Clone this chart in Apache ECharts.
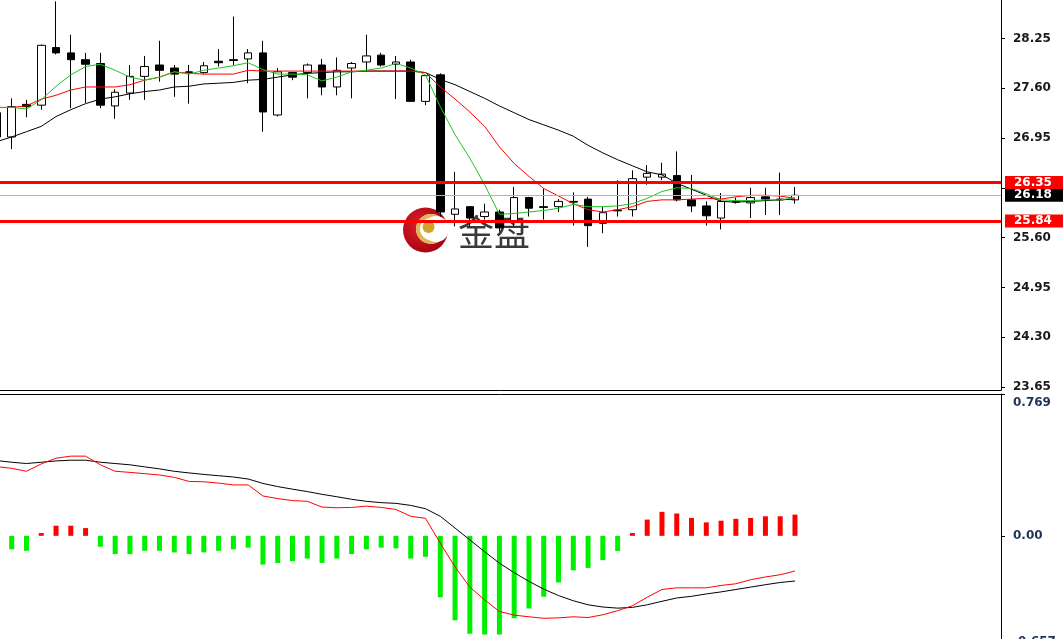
<!DOCTYPE html>
<html><head><meta charset="utf-8">
<script src="https://cdn.jsdelivr.net/npm/echarts@6/dist/echarts.min.js"></script>
<style>html,body{margin:0;padding:0;background:#fff}#c{width:1063px;height:639px}</style>
</head><body><div id="c"></div>
<script>
// ---- price candles (bar index = position in arrays) ----
const opens  = [27.27,26.95,27.38,27.37,28.13,28.06,27.97,27.92,27.36,27.53,27.75,27.90,27.86,27.81,27.80,27.95,27.97,27.98,28.06,27.24,27.80,27.80,27.90,27.61,27.86,27.94,28.03,27.91,27.94,27.42,27.77,25.93,26.03,25.90,25.96,25.82,26.15,26.03,26.03,26.10,26.13,25.81,25.985,25.99,26.42,26.42,26.44,26.12,26.04,25.88,26.095,26.08,26.16,26.13,26.12];
const closes = [26.95,27.35,27.35,28.16,28.06,27.97,27.91,27.37,27.54,27.75,27.88,27.83,27.78,27.80,27.89,27.93,27.96,28.06,27.28,27.81,27.74,27.90,27.61,27.83,27.92,28.02,27.90,27.94,27.42,27.76,25.96,26.00,25.88,25.96,25.75,26.15,26.01,26.02,26.10,26.09,25.78,25.95,25.975,26.40,26.47,26.46,26.12,26.04,25.91,26.10,26.09,26.15,26.13,26.12,26.18];
const lows   = [26.90,26.79,27.21,27.31,28.04,27.33,27.40,27.33,27.19,27.44,27.44,27.68,27.48,27.39,27.78,27.88,27.90,27.66,27.02,27.22,27.70,27.46,27.50,27.50,27.46,27.81,27.88,27.45,27.42,27.37,25.90,25.77,25.77,25.86,25.70,25.77,25.90,25.86,25.96,25.78,25.50,25.68,25.90,25.90,26.32,26.38,26.10,25.96,25.78,25.73,26.07,25.88,25.92,25.92,26.07];
const highs  = [27.30,27.46,27.44,28.17,28.74,28.30,28.06,28.06,27.58,27.90,28.02,28.22,27.90,27.90,27.94,28.11,28.54,28.11,28.22,27.86,27.81,27.92,27.98,28.00,27.94,28.30,28.06,28.02,27.97,27.76,27.79,26.49,26.03,26.07,25.99,26.29,26.16,26.27,26.13,26.22,26.16,26.03,26.38,26.51,26.58,26.61,26.76,26.45,26.10,26.21,26.15,26.28,26.28,26.48,26.29];

// ---- moving averages as drawn ----
const maGreen = [27.34,27.34,27.32,27.44,27.62,27.77,27.88,27.91,27.83,27.74,27.70,27.74,27.81,27.78,27.83,27.86,27.89,27.93,27.84,27.78,27.78,27.77,27.69,27.74,27.81,27.83,27.86,27.92,27.86,27.77,27.35,26.98,26.67,26.32,25.93,25.94,25.96,25.98,26.01,26.06,26.03,26.03,26.04,26.07,26.14,26.23,26.28,26.27,26.20,26.12,26.11,26.11,26.12,26.12,26.15];
const maRed   = [27.34,27.34,27.36,27.45,27.50,27.57,27.61,27.61,27.61,27.64,27.70,27.74,27.81,27.79,27.78,27.78,27.78,27.83,27.82,27.82,27.82,27.82,27.82,27.82,27.82,27.82,27.82,27.82,27.82,27.80,27.61,27.45,27.28,27.09,26.82,26.60,26.43,26.27,26.17,26.07,25.99,25.96,25.99,26.03,26.10,26.12,26.12,26.13,26.14,26.13,26.16,26.18,26.18,26.17,26.14];
const maBlack = [26.89,26.95,27.02,27.09,27.22,27.31,27.39,27.45,27.48,27.52,27.55,27.57,27.61,27.62,27.65,27.66,27.67,27.70,27.71,27.74,27.77,27.79,27.80,27.81,27.81,27.82,27.82,27.82,27.82,27.80,27.71,27.64,27.55,27.46,27.36,27.27,27.18,27.11,27.04,26.96,26.84,26.74,26.65,26.57,26.49,26.45,26.34,26.26,26.18,26.10,26.09,26.10,26.11,26.12,26.13];

// ---- horizontal levels ----
const levels = [26.35, 25.84];
const lastPrice = 26.18;

// ---- MACD panel ----
const macdHist = [-0.068,-0.073,-0.081,0.015,0.055,0.055,0.042,-0.059,-0.099,-0.099,-0.081,-0.081,-0.090,-0.099,-0.090,-0.081,-0.073,-0.064,-0.156,-0.147,-0.137,-0.123,-0.147,-0.123,-0.099,-0.073,-0.064,-0.068,-0.123,-0.114,-0.333,-0.458,-0.531,-0.535,-0.535,-0.447,-0.394,-0.330,-0.253,-0.187,-0.174,-0.132,-0.082,0.015,0.088,0.130,0.121,0.097,0.073,0.082,0.092,0.097,0.106,0.106,0.115];
const macdMain = [0.408,0.399,0.392,0.399,0.406,0.410,0.410,0.399,0.392,0.385,0.374,0.363,0.350,0.341,0.333,0.326,0.319,0.308,0.284,0.267,0.253,0.240,0.225,0.212,0.198,0.187,0.180,0.176,0.165,0.147,0.106,0.042,-0.022,-0.086,-0.148,-0.200,-0.247,-0.289,-0.324,-0.352,-0.374,-0.386,-0.392,-0.388,-0.374,-0.355,-0.337,-0.328,-0.315,-0.304,-0.291,-0.278,-0.265,-0.253,-0.245];
const macdSignal = [0.375,0.366,0.350,0.390,0.421,0.432,0.432,0.385,0.350,0.344,0.337,0.330,0.317,0.295,0.293,0.286,0.276,0.276,0.216,0.202,0.191,0.187,0.156,0.152,0.154,0.161,0.154,0.143,0.106,0.095,-0.040,-0.169,-0.278,-0.347,-0.410,-0.430,-0.439,-0.447,-0.445,-0.439,-0.443,-0.428,-0.406,-0.379,-0.333,-0.291,-0.282,-0.282,-0.282,-0.269,-0.260,-0.238,-0.223,-0.211,-0.191];

// ---- axis tick labels ----
const priceTickLabels = ['23.65','24.30','24.95','25.60','','26.95','27.60','28.25'];
const priceTickFirst = 23.65, priceTickLast = 28.25;
const macdTickValues = [-0.657, 0, 0.769];
const macdTickLabels = ['-0.657','0.00','0.769'];

// ---------------------------------------------------------
const step = (priceTickLast - priceTickFirst) / (priceTickLabels.length - 1);
const priceTickValues = priceTickLabels.map((_, k) => +(priceTickFirst + k * step).toFixed(6));
const candleData = opens.map((o, i) => [i, o, closes[i], lows[i], highs[i]]);
const pair = arr => arr.map((v, i) => [i, v]);

const X_MIN = 0.2084, X_MAX = 67.94;
const AXIS_FONT = 'DejaVu Sans';
const FS = 12;

const chart = echarts.init(document.getElementById('c'), null, {renderer: 'canvas'});

const tag = (bg) => ({
  show: true, position: 'end', distance: 4,
  formatter: p => Number(p.value).toFixed(2),
  color: '#fff', backgroundColor: bg,
  fontFamily: AXIS_FONT, fontSize: FS, fontWeight: 'bold', lineHeight: 12,
  padding: [1, 0, 0, 9], width: 49, align: 'left'
});

chart.setOption({
  animation: false,
  backgroundColor: '#ffffff',
  grid: [
    {left: 0, right: 62, top: 0, height: 390, outerBoundsMode: 'none', containLabel: false},
    {left: 0, right: 62, top: 394, height: 263, outerBoundsMode: 'none', containLabel: false}
  ],
  xAxis: [
    {type: 'value', gridIndex: 0, min: X_MIN, max: X_MAX, position: 'bottom',
     axisLine: {show: true, onZero: false, lineStyle: {color: '#000', width: 1}},
     axisTick: {show: false}, axisLabel: {show: false}, splitLine: {show: false}},
    {type: 'value', gridIndex: 1, min: X_MIN, max: X_MAX, position: 'top',
     axisLine: {show: true, onZero: false, lineStyle: {color: '#000', width: 1}},
     axisTick: {show: false}, axisLabel: {show: false}, splitLine: {show: false}}
  ],
  yAxis: [
    {type: 'value', gridIndex: 0, position: 'right', min: 23.6104, max: 28.758,
     axisLine: {show: true, lineStyle: {color: '#000', width: 1}},
     axisTick: {show: true, length: 4, customValues: priceTickValues, lineStyle: {color: '#000'}},
     axisLabel: {show: true, margin: 12, customValues: priceTickValues, showMinLabel: true, showMaxLabel: true,
       fontFamily: AXIS_FONT, fontSize: FS, fontWeight: 'bold', color: '#1a1a1a',
       formatter: v => { const k = priceTickValues.findIndex(t => Math.abs(t - v) < 1e-4); return k >= 0 ? priceTickLabels[k] : ''; }},
     splitLine: {show: false}},
    {type: 'value', gridIndex: 1, position: 'right', min: macdTickValues[0], max: macdTickValues[2],
     axisLine: {show: true, lineStyle: {color: '#000', width: 1}},
     axisTick: {show: true, length: 4, customValues: macdTickValues, lineStyle: {color: '#000'}},
     axisLabel: {show: true, margin: 12, customValues: macdTickValues, showMinLabel: true, showMaxLabel: true,
       fontFamily: AXIS_FONT, fontSize: FS, fontWeight: 'bold', color: '#1c3456',
       formatter: v => {
         const k = macdTickValues.findIndex(t => Math.abs(t - v) < 1e-4);
         if (k < 0) return '';
         if (k === macdTickValues.length - 1) return '{top|' + macdTickLabels[k] + '}';
         if (k === 0) return '{bot|' + macdTickLabels[k] + '}';
         return macdTickLabels[k];
       },
       rich: {
         top: {fontFamily: AXIS_FONT, fontSize: FS, fontWeight: 'bold', color: '#1c3456', padding: [18, 0, 0, 0]},
         bot: {fontFamily: AXIS_FONT, fontSize: FS, fontWeight: 'bold', color: '#1c3456', padding: [0, 0, 30, 0]}
       }},
     splitLine: {show: false}}
  ],
  graphic: [
    {type: 'group', z: 100, silent: true, children: [
      {type: 'circle', shape: {cx: 425.5, cy: 230, r: 22.5},
       style: {fill: new echarts.graphic.RadialGradient(0.4, 0.4, 0.7, [{offset: 0, color: '#e0202a'}, {offset: 1, color: '#a0000c'}])}},
      {type: 'circle', shape: {cx: 431, cy: 229, r: 15}, style: {fill: '#ffffff'}},
      {type: 'ring', shape: {cx: 431, cy: 229, r: 15, r0: 11}, style: {fill: '#d6a93a', opacity: 0.85}},
      {type: 'circle', shape: {cx: 436, cy: 229, r: 13}, style: {fill: '#ffffff'}},
      {type: 'circle', shape: {cx: 428.5, cy: 227, r: 6}, style: {fill: '#d2a22c'}},
      {type: 'text', x: 458, y: 232,
       style: {text: '金盘', font: '36px "Noto Sans CJK SC"', fill: 'rgba(30,30,30,0.88)', textVerticalAlign: 'middle', textAlign: 'left'}}
    ]}
  ],
  series: [
    {type: 'candlestick', xAxisIndex: 0, yAxisIndex: 0, data: candleData, barWidth: 8, clip: true, z: 2,
     itemStyle: {color: '#ffffff', color0: '#000000', borderColor: '#000000', borderColor0: '#000000', borderWidth: 1},
     markLine: {
       symbol: 'none', silent: true, animation: false, z: 5,
       data: [
         {yAxis: lastPrice, lineStyle: {color: '#b4b4b4', width: 1, type: 'solid'}, label: tag('#000000')},
         {yAxis: levels[0], lineStyle: {color: '#ff0000', width: 3, type: 'solid'}, label: tag('#ff0000')},
         {yAxis: levels[1], lineStyle: {color: '#ff0000', width: 3, type: 'solid'}, label: tag('#ff0000')}
       ]
     }},
    {type: 'line', xAxisIndex: 0, yAxisIndex: 0, data: pair(maBlack), symbol: 'none', z: 3,
     lineStyle: {color: '#000000', width: 1}},
    {type: 'line', xAxisIndex: 0, yAxisIndex: 0, data: pair(maRed), symbol: 'none', z: 3,
     lineStyle: {color: '#ff0000', width: 1}},
    {type: 'line', xAxisIndex: 0, yAxisIndex: 0, data: pair(maGreen), symbol: 'none', z: 3,
     lineStyle: {color: '#1fc41f', width: 1}},
    {type: 'bar', xAxisIndex: 1, yAxisIndex: 1, data: pair(macdHist), barWidth: 5,
     itemStyle: {color: p => (p.value[1] >= 0 ? '#ff0000' : '#00f000')}},
    {type: 'line', xAxisIndex: 1, yAxisIndex: 1, data: pair(macdMain), symbol: 'none', z: 3,
     lineStyle: {color: '#000000', width: 1}},
    {type: 'line', xAxisIndex: 1, yAxisIndex: 1, data: pair(macdSignal), symbol: 'none', z: 3,
     lineStyle: {color: '#ff0000', width: 1}}
  ]
});
</script></body></html>
